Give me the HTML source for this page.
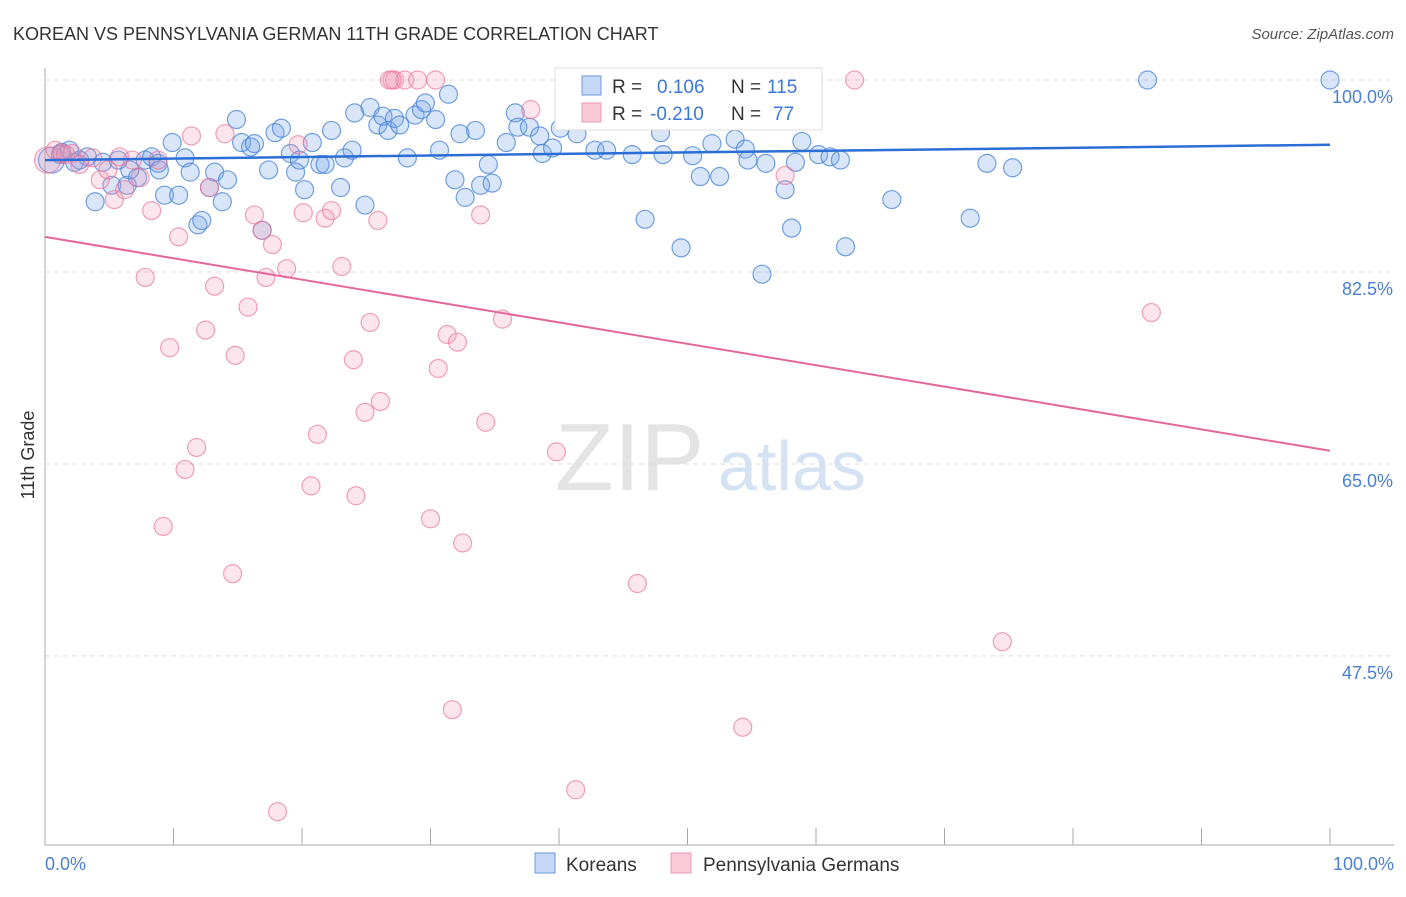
<!DOCTYPE html>
<html><head><meta charset="utf-8"><style>
body{margin:0;background:#fff;font-family:"Liberation Sans",sans-serif}
svg text{font-family:"Liberation Sans",sans-serif}
</style></head><body>
<svg id="chart" width="1406" height="892" viewBox="0 0 1406 892">
<text x="13" y="40" font-size="18" fill="#333">KOREAN VS PENNSYLVANIA GERMAN 11TH GRADE CORRELATION CHART</text>
<text x="1394" y="39" font-size="15" fill="#555" font-style="italic" text-anchor="end">Source: ZipAtlas.com</text>
<text x="555" y="490" font-size="96" fill="#e4e4e4" font-family="Liberation Serif">ZIP</text>
<text x="718" y="490" font-size="70" fill="#d4e2f4">atlas</text>
<g id="grid"></g>
<g id="axes"></g>
<g id="pts"></g>
<g id="trends"></g>
<text transform="translate(34,455) rotate(-90)" font-size="18" fill="#333" text-anchor="middle">11th Grade</text>
<text x="45" y="870" font-size="18" fill="#4a7fd4">0.0%</text>
<text x="1394" y="870" font-size="18" fill="#4a7fd4" text-anchor="end">100.0%</text>
<g>
<rect x="555" y="68" width="267" height="62" fill="#fff" stroke="#ddd"/>
<rect x="582" y="76" width="19" height="19" fill="#c5d8f5" stroke="#6a9ae0"/>
<rect x="582" y="103" width="19" height="19" fill="#f9cad8" stroke="#ec9ab4"/>
<text x="612" y="93" font-size="19" fill="#333">R = </text><text x="657" y="93" font-size="19" fill="#3b78d8">0.106</text>
<text x="731" y="93" font-size="19" fill="#333">N = </text><text x="767" y="93" font-size="19" fill="#3b78d8">115</text>
<text x="612" y="120" font-size="19" fill="#333">R = </text><text x="650" y="120" font-size="19" fill="#3b78d8">-0.210</text>
<text x="731" y="120" font-size="19" fill="#333">N = </text><text x="773" y="120" font-size="19" fill="#3b78d8">77</text>
</g>
<g>
<rect x="535" y="853" width="20" height="20" fill="#c5d8f5" stroke="#6a9ae0"/>
<text x="566" y="871" font-size="19" fill="#333">Koreans</text>
<rect x="671" y="853" width="20" height="20" fill="#f9cad8" stroke="#ec9ab4"/>
<text x="703" y="871" font-size="19" fill="#333">Pennsylvania Germans</text>
</g>
</svg>
<script>
const yTicks=[100,82.5,65,47.5];
const yTickLabels=["100.0%","82.5%","65.0%","47.5%"];
const xTicks=[0,10,20,30,40,50,60,70,80,90,100];
const koreanX=[0.5,1.2,1.9,2.3,3.3,3.9,4.5,5.2,5.7,6.4,7.2,7.8,8.3,8.8,9.3,9.9,10.4,10.9,11.3,11.9,12.2,12.8,13.2,13.8,14.2,14.9,15.3,16.0,16.3,16.9,17.4,17.9,18.4,19.1,19.5,19.8,20.2,20.8,21.4,21.8,22.3,23.0,23.3,23.9,24.1,24.9,25.3,25.9,26.3,26.7,27.2,27.6,28.2,28.8,29.3,29.6,30.4,30.7,31.4,31.9,32.3,32.7,33.5,33.9,34.5,34.8,35.9,36.6,36.8,37.7,38.5,38.7,39.5,40.1,40.7,41.4,42.4,42.8,43.7,45.7,46.7,47.9,48.1,49.5,50.4,51.0,51.9,52.5,53.7,54.5,54.7,56.1,55.8,57.6,58.1,58.4,58.9,60.2,61.1,61.9,62.3,65.9,72.0,73.3,75.3,85.8,100,1.3,2.7,6.6,8.9];
const koreanY=[92.7,93.2,93.6,92.5,93.0,88.9,92.5,90.4,92.7,90.4,91.1,92.7,93.0,92.4,89.5,94.3,89.5,92.9,91.6,86.8,87.2,90.2,91.6,88.9,90.9,96.4,94.3,93.9,94.2,86.3,91.8,95.2,95.6,93.3,91.6,92.7,90.0,94.3,92.3,92.3,95.4,90.2,92.9,93.6,97.0,88.6,97.5,95.9,96.7,95.4,96.5,95.9,92.9,96.8,97.3,97.9,96.4,93.6,98.7,90.9,95.1,89.3,95.4,90.4,92.3,90.6,94.3,97.0,95.7,95.7,94.9,93.3,93.8,95.6,100,95.1,96.4,93.6,93.6,93.2,87.3,95.2,93.2,84.7,93.1,91.2,94.2,91.2,94.6,93.7,92.7,92.4,82.3,90.0,86.5,92.5,94.4,93.2,93.0,92.7,84.8,89.1,87.4,92.4,92.0,100,100,93.4,92.7,91.8,91.8];
const germanX=[0.2,0.8,1.3,2.1,2.7,3.7,4.3,4.9,5.4,6.2,6.8,7.4,7.8,8.3,8.8,9.2,9.7,10.4,10.9,11.4,11.8,12.5,12.8,13.2,14.0,14.6,14.8,15.8,16.3,16.9,17.2,17.7,18.1,18.8,19.7,20.1,20.7,21.2,21.8,22.3,23.1,24.0,24.2,24.9,25.3,25.9,26.1,27.2,28.0,29.0,30.0,30.4,30.6,31.3,31.7,32.1,32.5,33.9,34.3,35.6,37.8,39.8,41.3,46.1,54.3,57.6,58.6,63.0,74.5,86.1,1.6,5.8,26.8,27.0];
const germanY=[92.7,93.6,93.3,93.3,92.3,92.9,90.9,91.8,89.1,90.0,92.7,91.1,82.0,88.1,92.7,59.3,75.6,85.7,64.5,94.9,66.5,77.2,90.2,81.2,95.1,55.0,74.9,79.3,87.7,86.3,82.0,85.0,33.3,82.8,94.1,87.9,63.0,67.7,87.4,88.1,83.0,74.5,62.1,69.7,77.9,87.2,70.7,100,100,100,60.0,100,73.7,76.8,42.6,76.1,57.8,87.7,68.8,78.2,97.3,66.1,35.3,54.1,41.0,91.3,100,100,48.8,78.8,93.2,93.0,100,100];
const koreanTrend=[92.7,94.1];
const germanTrend=[85.7,66.2];
const X0=45,X1=1330,Y100=80,PXPER=10.97;
const sx=v=>X0+(X1-X0)*v/100;
const sy=v=>Y100+(100-v)*PXPER;
const NS="http://www.w3.org/2000/svg";
function mk(tag,parent,attrs){const e=document.createElementNS(NS,tag);for(const k in attrs)e.setAttribute(k,attrs[k]);document.getElementById(parent).appendChild(e);return e;}
yTicks.forEach((t,i)=>{
 const l=mk('line','grid',{x1:X0,x2:1394,y1:sy(t),y2:sy(t),stroke:'#ddd','stroke-dasharray':'5,4'});
 
 
 const tx=mk('text','grid',{x:1393,y:sy(t)+23,'font-size':18,fill:'#4a7fd4','text-anchor':'end'});
 tx.textContent=yTickLabels[i];
 
 
});
const ya=mk('line','axes',{x1:X0,x2:X0,y1:68,y2:845,stroke:'#aaa'});


const xa=mk('line','axes',{x1:X0,x2:1394,y1:845,y2:845,stroke:'#aaa'});


xTicks.forEach(t=>{
 const l=mk('line','axes',{x1:sx(t),x2:sx(t),y1:828,y2:845,stroke:'#aaa'});
 
 
});
function drawPts(xs,ys,fill,stroke,name){
 xs.forEach((x,i)=>{
  const c=mk('circle','pts',{cx:sx(x),cy:sy(ys[i]),r:(i===0?13:9),fill:fill,stroke:stroke,'stroke-width':1.2});
  
  
 });
}
drawPts(koreanX,koreanY,'rgba(120,165,235,0.28)','rgba(70,130,215,0.75)','korean-point');
drawPts(germanX,germanY,'rgba(245,150,180,0.25)','rgba(232,120,160,0.7)','pa-german-point');
const t1=mk('line','trends',{x1:sx(0),y1:sy(koreanTrend[0]),x2:sx(100),y2:sy(koreanTrend[1]),stroke:'#2b6fd6','stroke-width':2.5});


const t2=mk('line','trends',{x1:sx(0),y1:sy(germanTrend[0]),x2:sx(100),y2:sy(germanTrend[1]),stroke:'#e5679a','stroke-width':2});


</script>
</body></html>
